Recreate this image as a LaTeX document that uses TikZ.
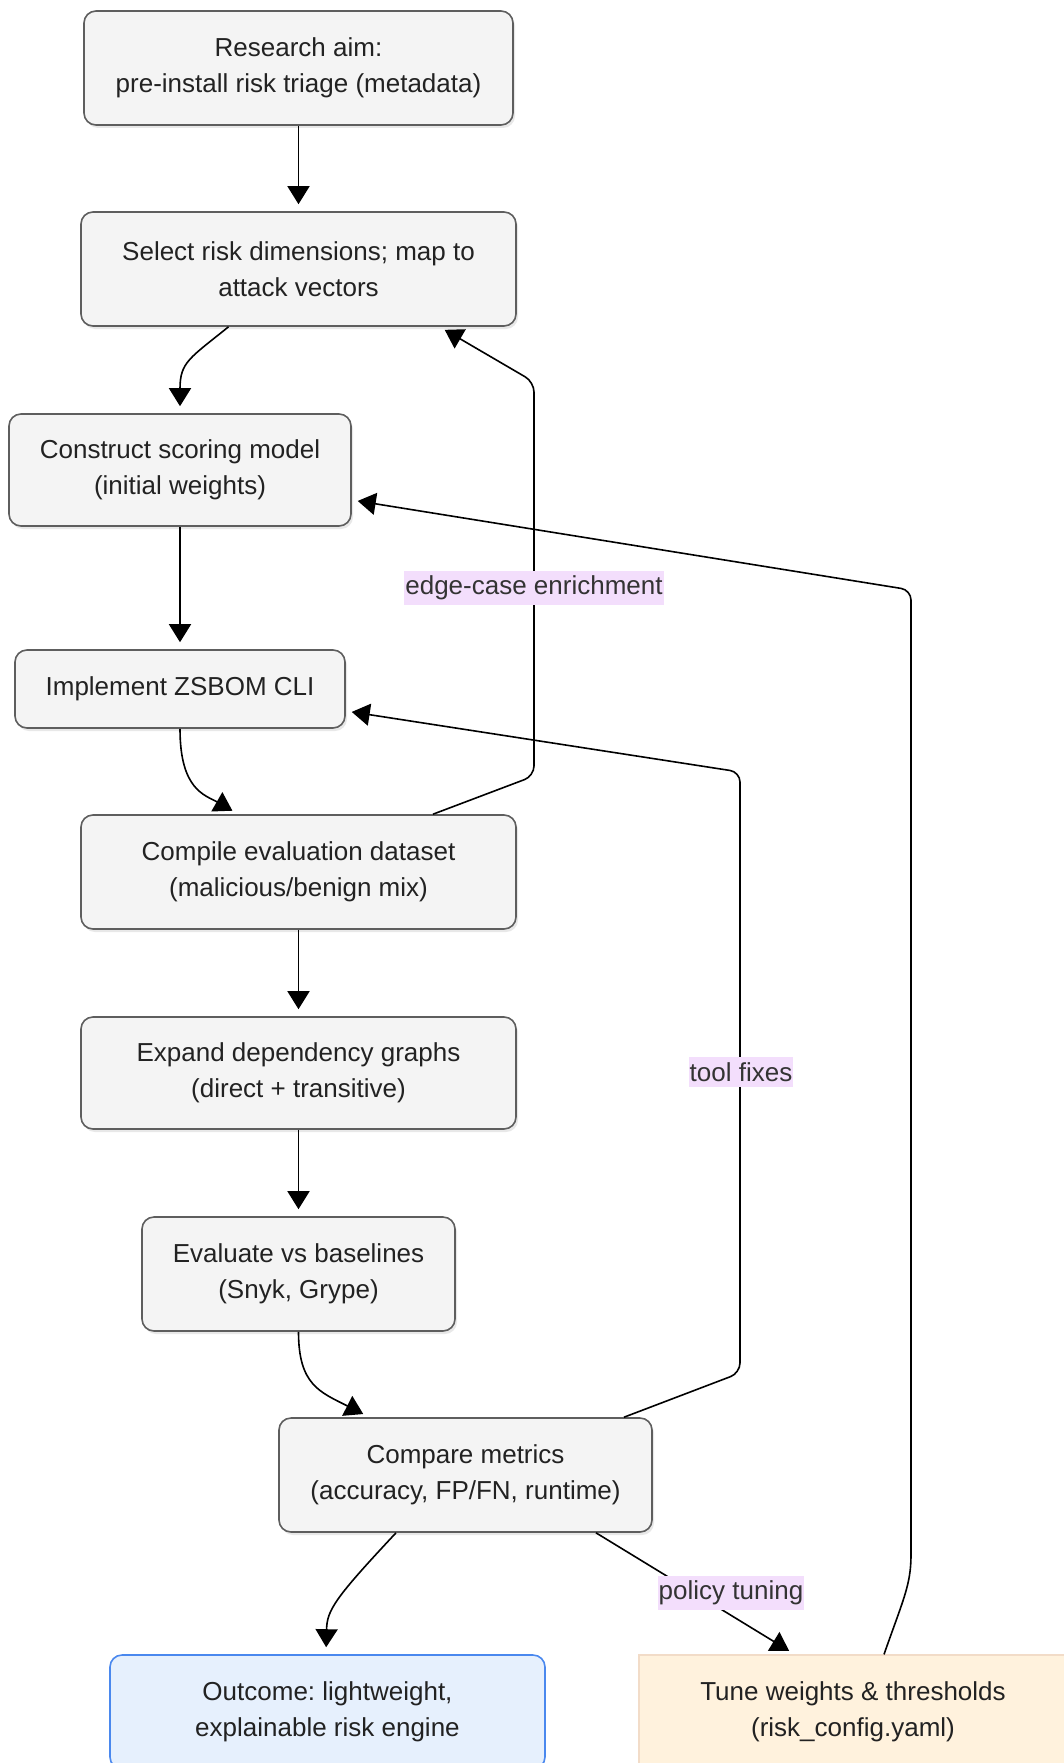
\documentclass[tikz,border=0pt]{standalone}
\usepackage{fontspec}
\setmainfont{Liberation Sans}
\usetikzlibrary{arrows.meta,shadows,positioning}
\definecolor{boxgray}{HTML}{F4F4F4}
\definecolor{boxline}{HTML}{5E5E5E}
\definecolor{textdark}{HTML}{222222}
\definecolor{lblfill}{HTML}{F3DEFC}
\definecolor{lbltext}{HTML}{333333}
\definecolor{outfill}{HTML}{E6F0FD}
\definecolor{outline}{HTML}{4A88EE}
\definecolor{tunefill}{HTML}{FFF2DD}
\definecolor{tuneline}{HTML}{F2DCC8}
\tikzset{
  stepbox/.style={draw=boxline, fill=boxgray, rounded corners=12pt, line width=1.6pt,
    align=center, inner sep=0pt, text=textdark,
    font=\fontsize{26}{36}\selectfont,
    drop shadow={shadow xshift=2pt, shadow yshift=-3pt, opacity=0.18}},
  outbox/.style={draw=outline, fill=outfill, rounded corners=12pt, line width=1.6pt,
    align=center, inner sep=0pt, text=textdark, font=\fontsize{26}{36}\selectfont},
  tunebox/.style={draw=tuneline, fill=tunefill, line width=1.2pt,
    align=center, inner sep=0pt, text=textdark, font=\fontsize{26}{36}\selectfont},
  lbl/.style={fill=lblfill, text=lbltext, inner xsep=1pt, inner ysep=5pt,
    font=\fontsize{26}{30}\selectfont},
  arr/.style={-{Triangle[length=18pt,width=22pt]}, line width=1.6pt, shorten >=7pt},
  fb/.style={-{Triangle[length=18pt,width=22pt]}, line width=1.6pt, shorten >=6pt, rounded corners=10pt}
}
\frenchspacing
\begin{document}
\begin{tikzpicture}[x=1pt,y=-1pt]
\useasboundingbox (0,0) rectangle (1064,1763);

\node[stepbox, minimum width=429pt, minimum height=114pt] (n1) at (298.5,68)
  {Research aim:\\pre-install risk triage (metadata)};
\node[stepbox, minimum width=435pt, minimum height=114pt] (n2) at (298.5,269)
  {Select risk dimensions; map to\\attack vectors};
\node[stepbox, minimum width=342pt, minimum height=112pt] (n3) at (180,470)
  {Construct scoring model\\(initial weights)};
\node[stepbox, minimum width=330pt, minimum height=78pt] (n4) at (180,689)
  {Implement ZSBOM CLI};
\node[stepbox, minimum width=435pt, minimum height=114pt] (n5) at (298.5,872)
  {Compile evaluation dataset\\(malicious/benign mix)};
\node[stepbox, minimum width=435pt, minimum height=112pt] (n6) at (298.5,1073)
  {Expand dependency graphs\\(direct + transitive)};
\node[stepbox, minimum width=313pt, minimum height=114pt] (n7) at (298.5,1274)
  {Evaluate vs baselines\\(Snyk, Grype)};
\node[stepbox, minimum width=373pt, minimum height=114pt] (n8) at (465.5,1475)
  {Compare metrics\\(accuracy, FP/FN, runtime)};
\node[outbox, minimum width=435pt, minimum height=114pt] (n9) at (327.5,1712)
  {Outcome: lightweight,\\explainable risk engine};
\node[tunebox, minimum width=428pt, minimum height=114pt] (n10) at (853,1712)
  {Tune weights \& thresholds\\(risk\_config.yaml)};

% main flow
\draw[arr] (n1.south) -- (n2.north);
\draw[arr] ([xshift=-70pt]n2.south) .. controls (190,358) and (180,362) .. (n3.north);
\draw[arr] (n3.south) -- (n4.north);
\draw[arr] (n4.south) .. controls (180,790) and (205,795) .. ([xshift=-60pt]n5.north);
\draw[arr] (n5.south) -- (n6.north);
\draw[arr] (n6.south) -- (n7.north);
\draw[arr] (n7.south) .. controls (298.5,1385) and (320,1392) .. ([xshift=-96pt]n8.north);
\draw[arr] ([xshift=-69.5pt]n8.south) .. controls (335,1598) and (327,1610) .. ([xshift=-1.5pt]n9.north);
\draw[arr] ([xshift=130.5pt]n8.south) -- ([xshift=-58pt]n10.north);
\node[lbl] (l3) at (731,1593) {policy tuning};

% feedback loops
\draw[fb] ([xshift=134.5pt]n5.north) -- (534,776) -- (534,382) -- ([xshift=141pt]n2.south);
\node[lbl] (l1) at (534,588) {edge-case enrichment};

\draw[fb] ([xshift=158.5pt]n8.north) -- (740,1373) -- (740,772) -- ([yshift=-22pt]n4.east);
\node[lbl] (l2) at (741,1072) {tool fixes};

\draw[fb] ([xshift=31pt]n10.north) .. controls (903,1600) and (911,1585) .. (911,1545)
  -- (911,590) -- ([yshift=-30pt]n3.east);
\end{tikzpicture}
\end{document}
